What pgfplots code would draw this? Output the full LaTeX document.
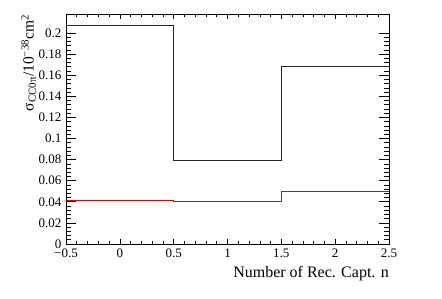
\documentclass[border=0pt]{standalone}
\usepackage{pgfplots}
\pgfplotsset{compat=1.18}
\usepackage{fontspec}
\setmainfont{Liberation Serif}
\begin{document}
\begin{tikzpicture}
\begin{axis}[
  at={(0pt,0pt)}, anchor=south west,
  scale only axis, width=323pt, height=229.5pt,
  xmin=-0.5, xmax=2.5, ymin=0, ymax=0.2175,
  axis line style={line width=0.8pt},
  xtick={-0.5,0,0.5,1,1.5,2,2.5},
  xticklabels={−0.5,0,0.5,1,1.5,2,2.5},
  ytick={0,0.02,0.04,0.06,0.08,0.1,0.12,0.14,0.16,0.18,0.2},
  yticklabels={0,0.02,0.04,0.06,0.08,0.1,0.12,0.14,0.16,0.18,0.2},
  minor x tick num=4, minor y tick num=4,
  tick align=inside, xtick pos=both, ytick pos=both,
  tick style={black, line width=0.6pt},
  x tick style={/pgfplots/major tick length=5pt, /pgfplots/minor tick length=2.5pt},
  y tick style={/pgfplots/major tick length=10pt, /pgfplots/minor tick length=5pt},
  ticklabel style={font=\fontsize{13}{13}\selectfont},
  xticklabel style={yshift=-1pt},
  yticklabel style={xshift=-1pt},
  /pgf/number format/assume math mode=true,
  xlabel={Number of Rec. Capt. n},
  xlabel style={font=\fontsize{16}{16}\selectfont, at={(axis description cs:1,0)}, anchor=north east, inner sep=0pt, yshift=-22.5pt},
  ylabel={σ\textsubscript{CC0π}/10\textsuperscript{−38}cm\textsuperscript{2}},
  ylabel style={font=\fontsize{15.5}{15.5}\selectfont, at={(axis description cs:-0.139,1)}, anchor=north east, inner sep=0pt},
]
\addplot[const plot, black!85, line width=0.7pt, mark=none] coordinates {
  (-0.5,0.2076) (0.5,0.0796) (1.5,0.1684) (2.5,0.1684)
};
\addplot[const plot, red!90!black, line width=0.7pt, mark=none] coordinates {
  (-0.5,0.0413) (0.5,0.0405) (1.5,0.0503) (2.5,0.0503)
};
\end{axis}
\path[use as bounding box] (-66pt,-55pt) rectangle (376pt,244pt);
\end{tikzpicture}
\end{document}
